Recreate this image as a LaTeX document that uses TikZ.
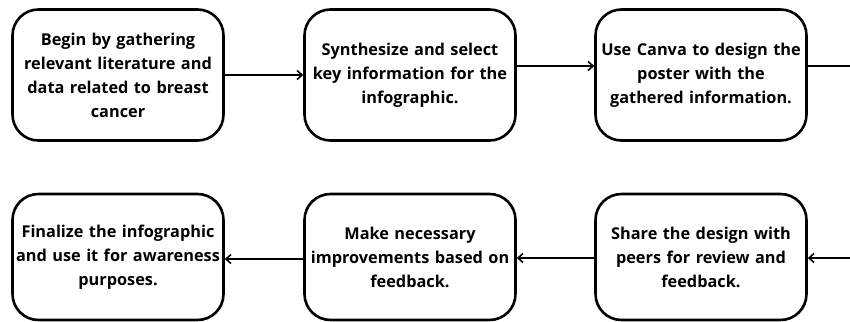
\documentclass[tikz,border=0pt]{standalone}
\usepackage{fontspec}
\setmainfont{Open Sans}[BoldFont={Open Sans Bold}]
\usetikzlibrary{arrows.meta}
\begin{document}
\begin{tikzpicture}[x=1pt,y=-1pt,
  stepbox/.style={draw=black,line width=2.6pt,rounded corners=26pt,fill=white,
    minimum width=211pt,minimum height=131pt,inner sep=0pt,align=center,
    font=\bfseries\fontsize{16.3}{24}\selectfont,text width=208pt},
  conn/.style={line width=2pt,-{Straight Barb[length=5pt,width=9pt,line width=1.6pt]}},
  plain/.style={line width=2pt}]
\useasboundingbox (0,0) rectangle (850,321);
\fill[white] (0,0) rectangle (850,321);
\node[stepbox] (b1) at (118,75) {Begin by gathering\\relevant literature and\\data related to breast\\cancer};
\node[stepbox] (b2) at (410,75) {Synthesize and select\\key information for the\\infographic.};
\node[stepbox] (b3) at (701,75) {Use Canva to design the\\poster with the\\gathered information.};
\node[stepbox,minimum height=126pt] (b4) at (118,257) {Finalize the infographic\\and use it for awareness\\purposes.};
\node[stepbox,minimum height=126pt] (b5) at (410,257) {Make necessary\\improvements based on\\feedback.};
\node[stepbox,minimum height=126pt] (b6) at (701,257) {Share the design with\\peers for review and\\feedback.};
\coordinate (r1) at (852,66);
\coordinate (r2) at (852,258);
\draw[conn] (b1.east) -- (b2.west);
\draw[conn] ([yshift=9pt]b2.east) -- ([yshift=9pt]b3.west);
\draw[plain] ([yshift=9pt]b3.east) -- (r1);
\draw[conn] (r2) -- ([yshift=-1pt]b6.east);
\draw[conn] ([yshift=-1pt]b6.west) -- ([yshift=-1pt]b5.east);
\draw[conn] ([yshift=-2pt]b5.west) -- ([yshift=-2pt]b4.east);
\end{tikzpicture}
\end{document}
